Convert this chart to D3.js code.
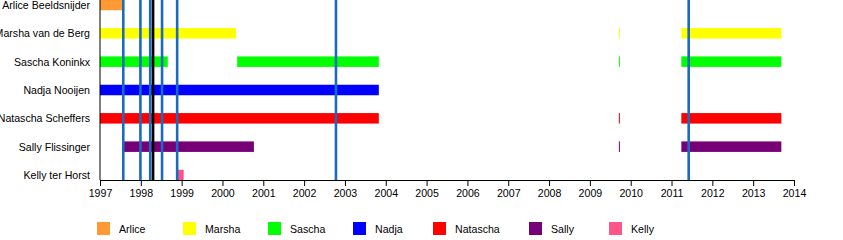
<!DOCTYPE html>
<html>
<head>
<meta charset="utf-8">
<script src="https://cdn.jsdelivr.net/npm/d3@7"></script>
<style>
  body { margin: 0; background: white; }
  text { font-family: "Liberation Sans", Arial, sans-serif; }
</style>
</head>
<body>
<div class="wrapper"></div>
<script>
// members, top to bottom
const members = ["Arlice Beeldsnijder", "Marsha van de Berg", "Sascha Koninkx",
  "Nadja Nooijen", "Natascha Scheffers", "Sally Flissinger", "Kelly ter Horst"];
const shortNames = ["Arlice", "Marsha", "Sascha", "Nadja", "Natascha", "Sally", "Kelly"];
const colors = ["#ff9933", "#ffff00", "#00ff00", "#0000ff", "#ff0000", "#770077", "#ff5588"];

// periods in band, [member index, from, to] in decimal years
const periods = [
  [0, 1997.0, 1997.59],
  [1, 1997.0, 2000.33], [1, 2009.71, 2009.735], [1, 2011.24, 2013.69],
  [2, 1997.0, 1998.66], [2, 2000.36, 2003.83], [2, 2009.71, 2009.735], [2, 2011.24, 2013.69],
  [3, 1997.0, 2003.83],
  [4, 1997.0, 2003.83], [4, 2009.71, 2009.735], [4, 2011.24, 2013.69],
  [5, 1997.57, 2000.77], [5, 2009.71, 2009.735], [5, 2011.24, 2013.69],
  [6, 1998.9, 1999.05]
];

// release lines
const blueLines = [1997.57, 1997.99, 1998.23, 1998.52, 1998.89, 2002.78, 2011.42];
const blackLines = [1998.30];

const years = d3.range(1997, 2015);

const width = 843, height = 240;
const svg = d3.select(".wrapper").append("svg")
  .attr("width", width)
  .attr("height", height);

const x = d3.scaleLinear().domain([1997, 2014]).range([100, 794]);
const y = d3.scalePoint().domain(members).range([5, 175]);
const barH = 10.5;

svg.selectAll("rect.bar")
  .data(periods)
  .enter()
  .append("rect")
  .attr("class", "bar")
  .attr("x", d => x(d[1]))
  .attr("y", d => y(members[d[0]]) - barH / 2)
  .attr("width", d => Math.max(1, x(d[2]) - x(d[1])))
  .attr("height", barH)
  .style("fill", d => colors[d[0]]);

svg.selectAll("line.blue")
  .data(blueLines)
  .enter()
  .append("line")
  .attr("x1", d => x(d))
  .attr("x2", d => x(d))
  .attr("y1", 0)
  .attr("y2", 180)
  .attr("stroke", "#1a6bbf")
  .attr("stroke-width", 2.6);

svg.selectAll("line.black")
  .data(blackLines)
  .enter()
  .append("line")
  .attr("x1", d => x(d))
  .attr("x2", d => x(d))
  .attr("y1", 0)
  .attr("y2", 180)
  .attr("stroke", "black")
  .attr("stroke-width", 2.6);

// y axis
svg.append("line")
  .attr("x1", 100).attr("x2", 100)
  .attr("y1", 0).attr("y2", 180)
  .attr("stroke", "black");

svg.selectAll("text.member")
  .data(members)
  .enter()
  .append("text")
  .attr("x", 90)
  .attr("y", d => y(d) + 4)
  .attr("text-anchor", "end")
  .style("font-size", "10.6px")
  .text(d => d);

// x axis
const xAxis = svg.append("g")
  .attr("transform", "translate(0,180)")
  .call(d3.axisBottom(x).tickValues(years).tickFormat(d3.format("d")).tickSize(6).tickPadding(3));
xAxis.select(".domain").attr("stroke", "black").attr("d", "M100,0.5H794");
xAxis.selectAll("text").style("font-size", "10.6px").style("fill", "black")
  .style("font-family", "'Liberation Sans', Arial, sans-serif");

// legend
const legendX = [97, 183, 268, 353, 433, 529, 609];
const legend = svg.selectAll("g.legend")
  .data(shortNames)
  .enter()
  .append("g")
  .attr("transform", (d, i) => "translate(" + legendX[i] + ",222)");

legend.append("rect")
  .attr("width", 13)
  .attr("height", 13)
  .style("fill", (d, i) => colors[i]);

legend.append("text")
  .attr("x", 22)
  .attr("y", 11)
  .style("font-size", "10.6px")
  .text(d => d);
</script>
</body>
</html>
